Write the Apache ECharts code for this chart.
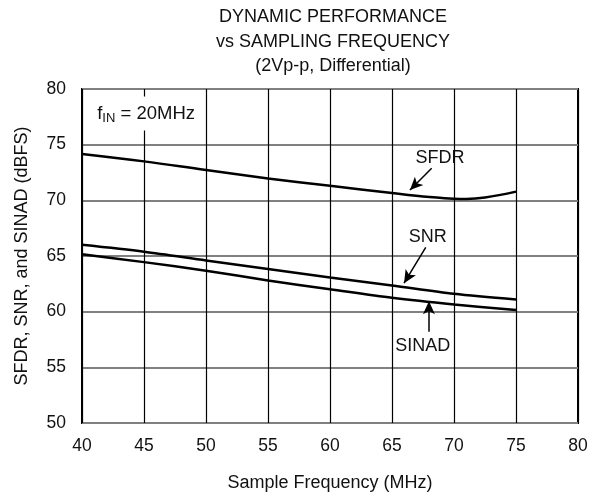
<!DOCTYPE html>
<html><head><meta charset="utf-8">
<script src="https://cdn.jsdelivr.net/npm/echarts@6/dist/echarts.min.js"></script>
<style>html,body{margin:0;padding:0;background:#fff}#c{width:596px;height:497px}</style>
</head><body><div id="c"></div>
<script>
const titleLines = ['DYNAMIC PERFORMANCE', 'vs SAMPLING FREQUENCY', '(2Vp-p, Differential)'];
const xTicks = [40, 45, 50, 55, 60, 65, 70, 75, 80];
const yTicks = [50, 55, 60, 65, 70, 75, 80];
const sfdrX = [40, 45, 50, 55, 60, 65, 67.5, 70, 71, 72.5, 75];
const sfdrY = [74.17, 73.5, 72.72, 71.97, 71.3, 70.66, 70.35, 70.15, 70.12, 70.25, 70.78];
const snrX = [40, 45, 50, 55, 60, 65, 70, 75];
const snrY = [66.0, 65.38, 64.6, 63.84, 63.07, 62.35, 61.6, 61.1];
const sinadX = [40, 45, 50, 55, 60, 65, 70, 75];
const sinadY = [65.15, 64.45, 63.68, 62.8, 62.02, 61.25, 60.65, 60.15];
const labels = [
  {name: 'SFDR', at: [68.87, 73.77], from: [68.2, 72.88], to: [66.45, 70.92]},
  {name: 'SNR', at: [67.88, 66.74], from: [67.72, 65.77], to: [65.97, 62.56]},
  {name: 'SINAD', at: [67.48, 56.87], from: [67.98, 58.2], to: [67.98, 60.93]}
];
const condText = ['f', 'IN', ' = 20MHz'];
const condAt = [40.86, 77.8];

const FONT = 'Liberation Sans, Arial, sans-serif';
const zip = (xs, ys) => xs.map((x, i) => [x, ys[i]]);
const lineStyle = {color: '#000', width: 2.5};

const chart = echarts.init(document.getElementById('c'), null, {renderer: 'canvas'});
chart.setOption({
  animation: false,
  backgroundColor: '#fff',
  title: {
    text: titleLines.join('\n'),
    left: 328, top: 0, textAlign: 'center',
    textStyle: {fontFamily: FONT, fontSize: 18, fontWeight: 'normal', color: '#111', lineHeight: 24.5}
  },
  grid: {left: 82, right: 18, top: 89, bottom: 71, show: true, borderColor: '#000', borderWidth: 2, backgroundColor: 'transparent'},
  xAxis: {
    type: 'value', min: xTicks[0], max: xTicks[xTicks.length - 1], interval: 5,
    name: 'Sample Frequency (MHz)', nameLocation: 'middle', nameGap: 51,
    nameTextStyle: {fontFamily: FONT, fontSize: 18, color: '#111'},
    axisLine: {show: false}, axisTick: {show: false},
    axisLabel: {fontFamily: FONT, fontSize: 17.5, color: '#111', margin: 14},
    splitLine: {show: true, lineStyle: {color: '#000', width: 1.2}}
  },
  yAxis: {
    type: 'value', min: yTicks[0], max: yTicks[yTicks.length - 1], interval: 5,
    name: 'SFDR, SNR, and SINAD (dBFS)', nameLocation: 'middle', nameGap: 51,
    nameTextStyle: {fontFamily: FONT, fontSize: 18, color: '#111'},
    axisLine: {show: false}, axisTick: {show: false},
    axisLabel: {fontFamily: FONT, fontSize: 17.5, color: '#111', margin: 16},
    splitLine: {show: true, lineStyle: {color: '#808080', width: 2}}
  },
  series: [
    {type: 'line', name: 'SFDR', data: zip(sfdrX, sfdrY), smooth: 0.4, showSymbol: false, lineStyle, z: 3,
     markPoint: {
       symbol: 'rect', symbolSize: 1,
       itemStyle: {color: 'transparent'},
       data: [{
         coord: condAt,
         label: {
           show: true, position: 'right', distance: 0,
           backgroundColor: '#fff', padding: [6, 4, 6, 4],
           formatter: '{a|' + condText[0] + '}{b|' + condText[1] + '}{a|' + condText[2] + '}',
           rich: {
             a: {fontFamily: FONT, fontSize: 18.5, color: '#111'},
             b: {fontFamily: FONT, fontSize: 13, color: '#111', verticalAlign: 'bottom', padding: [9, 0, 0, 0]}
           }
         }
       }].concat(labels.map(l => ({
         coord: l.at,
         label: {show: true, position: 'inside', formatter: l.name,
           fontFamily: FONT, fontSize: 18, color: '#111'}
       })))
     },
     markLine: {
       silent: true, symbol: ['none', 'arrow'], symbolSize: [9, 13],
       label: {show: false},
       lineStyle: {color: '#000', width: 1.5, type: 'solid'},
       data: labels.map(l => [{coord: l.from}, {coord: l.to}])
     }
    },
    {type: 'line', name: 'SNR', data: zip(snrX, snrY), smooth: 0.3, showSymbol: false, lineStyle, z: 3},
    {type: 'line', name: 'SINAD', data: zip(sinadX, sinadY), smooth: 0.3, showSymbol: false, lineStyle, z: 3}
  ]
});
</script>
</body></html>
